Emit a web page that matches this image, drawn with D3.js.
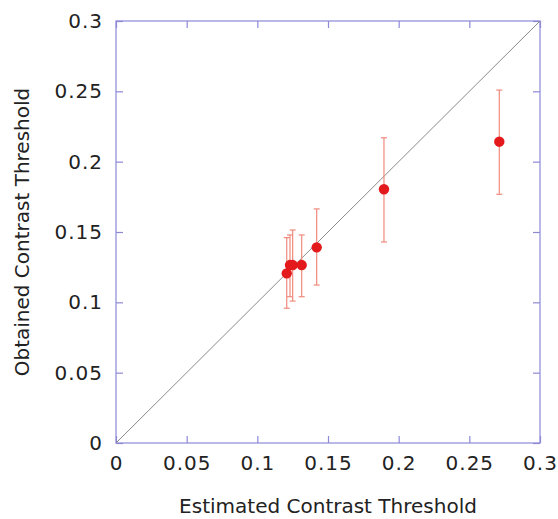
<!DOCTYPE html>
<html>
<head>
<meta charset="utf-8">
<script src="https://cdn.jsdelivr.net/npm/d3@7"></script>
<style>
    body { margin: 0; background: #fff; }
    text { font-family: "DejaVu Sans", sans-serif; fill: #222; }
</style>
</head>
<body>
<div id="chart"></div>
<script>

// estimated vs obtained thresholds
let estimated = [0.1208, 0.1231, 0.1250, 0.1314, 0.1420, 0.1896, 0.2712];
let obtained  = [0.1206, 0.1265, 0.1265, 0.1265, 0.1391, 0.1804, 0.2142];
let errLow    = [0.0958, 0.1040, 0.1009, 0.1040, 0.1123, 0.1429, 0.1768];
let errHigh   = [0.1460, 0.1479, 0.1514, 0.1479, 0.1664, 0.2170, 0.2509];

let tickValues = [0, 0.05, 0.1, 0.15, 0.2, 0.25, 0.3];
let tickLabels = ["0", "0.05", "0.1", "0.15", "0.2", "0.25", "0.3"];

let data = estimated.map((d, i) => {
    return { x: d, y: obtained[i], lo: errLow[i], hi: errHigh[i] };
});

let margin = { top: 21, right: 18, bottom: 76, left: 116 };
let width = 558 - margin.left - margin.right;
let height = 519 - margin.top - margin.bottom;

let svg = d3.select("#chart").append("svg")
    .attr("width", 558)
    .attr("height", 519);

let plot = svg.append("g")
    .attr("transform", `translate(${margin.left},${margin.top})`);

let xScale = d3.scaleLinear().domain([0, 0.3]).range([0, width]);
let yScale = d3.scaleLinear().domain([0, 0.3]).range([height, 0]);

let frameColor = "#8c89d6";

// frame
plot.append("rect")
    .attr("width", width)
    .attr("height", height)
    .attr("fill", "none")
    .attr("stroke", frameColor)
    .attr("stroke-width", 1.2);

let fmt = d => tickLabels[tickValues.indexOf(d)];

// inward ticks on all four sides
let axes = [
    { axis: d3.axisBottom(xScale), t: `translate(0,${height})`, labels: true },
    { axis: d3.axisTop(xScale), t: "translate(0,0)", labels: false },
    { axis: d3.axisLeft(yScale), t: "translate(0,0)", labels: true },
    { axis: d3.axisRight(yScale), t: `translate(${width},0)`, labels: false }
];

axes.forEach(a => {
    let g = plot.append("g")
        .attr("transform", a.t)
        .call(a.axis.tickValues(tickValues).tickSizeInner(-7).tickSizeOuter(0).tickPadding(13)
            .tickFormat(a.labels ? fmt : ""));
    g.select(".domain").remove();
    g.selectAll(".tick line").attr("stroke", frameColor).attr("stroke-width", 1.2);
    g.selectAll(".tick text")
        .style("font-size", "20px")
        .style("letter-spacing", "1px")
        .attr("fill", "#222");
});

// identity line
plot.append("line")
    .attr("x1", xScale(0))
    .attr("y1", yScale(0))
    .attr("x2", xScale(0.3))
    .attr("y2", yScale(0.3))
    .attr("stroke", "#8a8a8a")
    .attr("stroke-width", 1);

// error bars
let bars = plot.selectAll(".err")
    .data(data)
    .enter().append("g")
    .attr("class", "err")
    .attr("stroke", "#f08a7c")
    .attr("stroke-width", 1.2);

bars.append("line")
    .attr("x1", d => xScale(d.x))
    .attr("x2", d => xScale(d.x))
    .attr("y1", d => yScale(d.lo))
    .attr("y2", d => yScale(d.hi));

bars.append("line")
    .attr("x1", d => xScale(d.x) - 3)
    .attr("x2", d => xScale(d.x) + 3)
    .attr("y1", d => yScale(d.lo))
    .attr("y2", d => yScale(d.lo));

bars.append("line")
    .attr("x1", d => xScale(d.x) - 3)
    .attr("x2", d => xScale(d.x) + 3)
    .attr("y1", d => yScale(d.hi))
    .attr("y2", d => yScale(d.hi));

// points
plot.selectAll(".pt")
    .data(data)
    .enter().append("circle")
    .attr("class", "pt")
    .attr("cx", d => xScale(d.x))
    .attr("cy", d => yScale(d.y))
    .attr("r", 5.2)
    .attr("fill", "#e3191c");

// axis titles
svg.append("text")
    .attr("x", margin.left + width / 2)
    .attr("y", 513)
    .attr("text-anchor", "middle")
    .style("font-size", "20px")
    .text("Estimated Contrast Threshold");

svg.append("text")
    .attr("transform", `translate(29,${margin.top + height / 2}) rotate(-90)`)
    .attr("text-anchor", "middle")
    .style("font-size", "20px")
    .text("Obtained Contrast Threshold");

</script>
</body>
</html>
